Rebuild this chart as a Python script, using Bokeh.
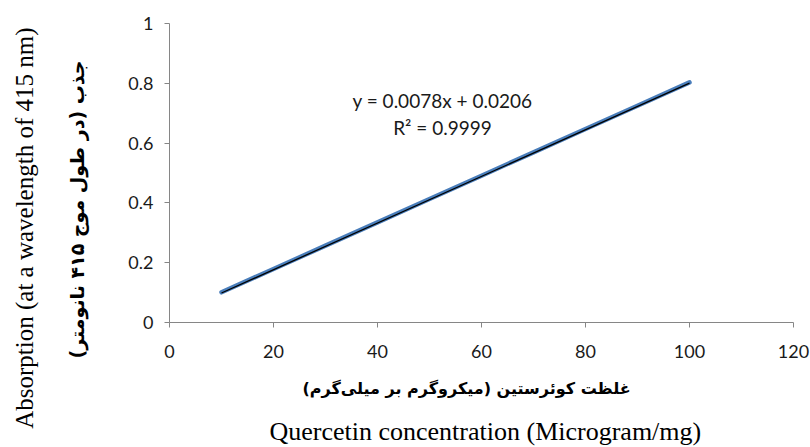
from bokeh.plotting import figure
from bokeh.models import Title, Range1d, FixedTicker, Label
from bokeh.embed import file_html
from bokeh.resources import INLINE

# ---- data ----
conc = [10, 20, 30, 40, 50, 60, 70, 80, 90, 100]
absorb = [0.101, 0.179, 0.257, 0.335, 0.413, 0.491, 0.569, 0.647, 0.725, 0.803]
fit_slope = 0.0078
fit_intercept = 0.0206
fit_r2 = 0.9999
x_ticks = [0, 20, 40, 60, 80, 100, 120]
y_ticks = [0, 0.2, 0.4, 0.6, 0.8, 1]
y_tick_labels = ["0", "0.2", "0.4", "0.6", "0.8", "1"]
x_tick_labels = ["0", "20", "40", "60", "80", "100", "120"]
eq_text = "y = 0.0078x + 0.0206"
r2_text = "R\u00b2 = 0.9999"
y_title_en = "Absorption (at a wavelength of 415 nm)"
y_title_fa = "جذب (در طول موج ۴۱۵ نانومتر)"
x_title_fa = "غلظت کوئرستین (میکروگرم بر میلی\u200cگرم)"
x_title_en = "Quercetin concentration (Microgram/mg)"

p = figure(width=810, height=447, output_backend="svg", toolbar_location=None,
           x_range=Range1d(0, 120), y_range=Range1d(0, 1),
           min_border_left=169, min_border_right=17, min_border_top=23,
           min_border_bottom=125)
p.outline_line_color = None
p.xgrid.visible = False
p.ygrid.visible = False
p.background_fill_color = "white"
p.border_fill_color = "white"

for ax in (p.xaxis[0], p.yaxis[0]):
    ax.axis_line_color = "#868686"
    ax.major_tick_line_color = "#868686"
    ax.major_tick_out = 5
    ax.major_tick_in = 0
    ax.minor_tick_line_color = None
    ax.major_label_text_font = "Lato"
    ax.major_label_text_font_size = "18px"
    ax.major_label_text_color = "#1a1a1a"

p.xaxis[0].ticker = FixedTicker(ticks=x_ticks)
p.yaxis[0].ticker = FixedTicker(ticks=y_ticks)
p.xaxis[0].major_label_overrides = {t: s for t, s in zip(x_ticks, x_tick_labels)}
p.yaxis[0].major_label_overrides = {t: s for t, s in zip(y_ticks, y_tick_labels)}
p.xaxis[0].major_label_standoff = 17
p.yaxis[0].major_label_standoff = 11

# data series
p.line(conc, absorb, line_color="#4a7ebb", line_width=4.5, line_cap="round")
# linear trendline
tx = [conc[0], conc[-1]]
ty = [fit_slope * v + fit_intercept for v in tx]
p.line(tx, ty, line_color="#000000", line_width=1.3)

p.add_layout(Label(x=52.5, y=0.742, text=eq_text, text_font="Lato", text_font_size="19px",
                   text_color="#1a1a1a", text_align="center", text_baseline="middle"))
p.add_layout(Label(x=52.5, y=0.652, text=r2_text, text_font="Lato", text_font_size="19px",
                   text_color="#1a1a1a", text_align="center", text_baseline="middle"))

# spacer between the y axis and the Persian title
p.add_layout(Title(text=" ", text_font_size="1px", standoff=11), "left")
p.add_layout(Title(text=y_title_fa, align="right", offset=37, standoff=47,
                   text_font="DejaVu Sans", text_font_style="bold", text_font_size="19px",
                   text_color="#000000"), "left")
p.add_layout(Title(text=y_title_en, align="right", offset=4, standoff=6,
                   text_font="Liberation Serif", text_font_style="normal", text_font_size="25px",
                   text_color="#000000"), "left")
p.add_layout(Title(text=x_title_fa, align="left", offset=133, standoff=33,
                   text_font="DejaVu Sans", text_font_style="bold", text_font_size="16px",
                   text_color="#000000"), "below")
p.add_layout(Title(text=x_title_en, align="left", offset=100, standoff=0,
                   text_font="Liberation Serif", text_font_style="normal", text_font_size="26px",
                   text_color="#000000"), "below")

open("out.html", "w").write(file_html(p, INLINE))
